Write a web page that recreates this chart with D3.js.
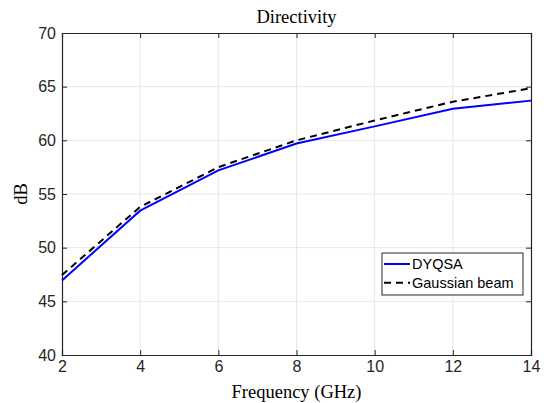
<!DOCTYPE html>
<html>
<head>
<meta charset="utf-8">
<script src="https://cdn.jsdelivr.net/npm/d3@7"></script>
<style>
  body { margin: 0; background: #fff; }
  .tick text { font-family: "Liberation Sans", Arial, sans-serif; font-size: 16px; fill: #262626; }
  .serif { font-family: "Liberation Serif", "DejaVu Serif", serif; fill: #000; }
</style>
</head>
<body>
<div id="chart"></div>
<script>
// frequency points (GHz)
var freqs = [2, 4, 6, 8, 10, 12, 14];
// directivity in dB
var dyqsa = [46.95, 53.45, 57.2, 59.7, 61.3, 62.95, 63.7];
var gaussian = [47.45, 53.8, 57.5, 60.0, 61.85, 63.6, 64.85];
var xTicks = [2, 4, 6, 8, 10, 12, 14];
var yTicks = [40, 45, 50, 55, 60, 65, 70];

var width = 546, height = 403;
var margin = {top: 33, right: 15, bottom: 48, left: 62};
var pw = width - margin.left - margin.right;
var ph = height - margin.top - margin.bottom;

var svg = d3.select("#chart").append("svg")
    .attr("width", width)
    .attr("height", height);

var x = d3.scaleLinear().domain([2, 14]).range([0, pw]);
var y = d3.scaleLinear().domain([40, 70]).range([ph, 0]);

var g = svg.append("g")
    .attr("transform", "translate(" + margin.left + "," + margin.top + ")");

// grid
g.selectAll(".vgrid").data(xTicks.slice(1, -1)).enter().append("line")
    .attr("x1", function(d) { return x(d); }).attr("x2", function(d) { return x(d); })
    .attr("y1", 0).attr("y2", ph)
    .attr("stroke", "#e6e6e6").attr("stroke-width", 1);
g.selectAll(".hgrid").data(yTicks.slice(1, -1)).enter().append("line")
    .attr("y1", function(d) { return y(d); }).attr("y2", function(d) { return y(d); })
    .attr("x1", 0).attr("x2", pw)
    .attr("stroke", "#e6e6e6").attr("stroke-width", 1);

// axes (ticks pointing inward, MATLAB style box)
var xAxis = g.append("g").attr("transform", "translate(0," + ph + ")")
    .call(d3.axisBottom(x).tickValues(xTicks).tickSize(-5).tickPadding(6));
var yAxis = g.append("g")
    .call(d3.axisLeft(y).tickValues(yTicks).tickSize(-5).tickPadding(6));
var xTop = g.append("g")
    .call(d3.axisTop(x).tickValues(xTicks).tickSize(-5).tickFormat(""));
var yRight = g.append("g").attr("transform", "translate(" + pw + ",0)")
    .call(d3.axisRight(y).tickValues(yTicks).tickSize(-5).tickFormat(""));
[xAxis, yAxis, xTop, yRight].forEach(function(a) {
    a.select(".domain").attr("stroke", "#262626").attr("stroke-width", 1.2);
    a.selectAll(".tick line").attr("stroke", "#262626");
});

// lines
var line = d3.line()
    .x(function(d, i) { return x(freqs[i]); })
    .y(function(d) { return y(d); });

g.append("path").datum(gaussian)
    .attr("fill", "none").attr("stroke", "#000")
    .attr("stroke-width", 2).attr("stroke-dasharray", "7,5")
    .attr("d", line);
g.append("path").datum(dyqsa)
    .attr("fill", "none").attr("stroke", "#0000ff")
    .attr("stroke-width", 2)
    .attr("d", line);

// title and labels
svg.append("text").attr("class", "serif")
    .attr("x", margin.left + pw / 2).attr("y", 23)
    .attr("text-anchor", "middle").style("font-size", "18.5px")
    .text("Directivity");
svg.append("text").attr("class", "serif")
    .attr("x", margin.left + pw / 2).attr("y", 398)
    .attr("text-anchor", "middle").style("font-size", "18.5px")
    .text("Frequency (GHz)");
svg.append("text").attr("class", "serif")
    .attr("transform", "translate(26.5," + (margin.top + ph / 2) + ") rotate(-90)")
    .attr("text-anchor", "middle").style("font-size", "18.5px")
    .text("dB");

// legend
var legend = svg.append("g").attr("transform", "translate(382,253)");
legend.append("rect")
    .attr("width", 141).attr("height", 42)
    .attr("fill", "#fff").attr("stroke", "#262626").attr("stroke-width", 1);
var items = [
    {label: "DYQSA", color: "#0000ff", dash: null},
    {label: "Gaussian beam", color: "#000", dash: "7,5"}
];
var row = legend.selectAll(".item").data(items).enter().append("g")
    .attr("transform", function(d, i) { return "translate(0," + (11 + i * 18.7) + ")"; });
row.append("line")
    .attr("x1", 2).attr("x2", 28).attr("y1", 0).attr("y2", 0)
    .attr("stroke", function(d) { return d.color; })
    .attr("stroke-width", 2)
    .attr("stroke-dasharray", function(d) { return d.dash; });
row.append("text")
    .attr("x", 30).attr("y", 0).attr("dy", "0.35em")
    .style("font-family", "Liberation Sans, Arial, sans-serif")
    .style("font-size", "14.5px").style("fill", "#000")
    .text(function(d) { return d.label; });
</script>
</body>
</html>
